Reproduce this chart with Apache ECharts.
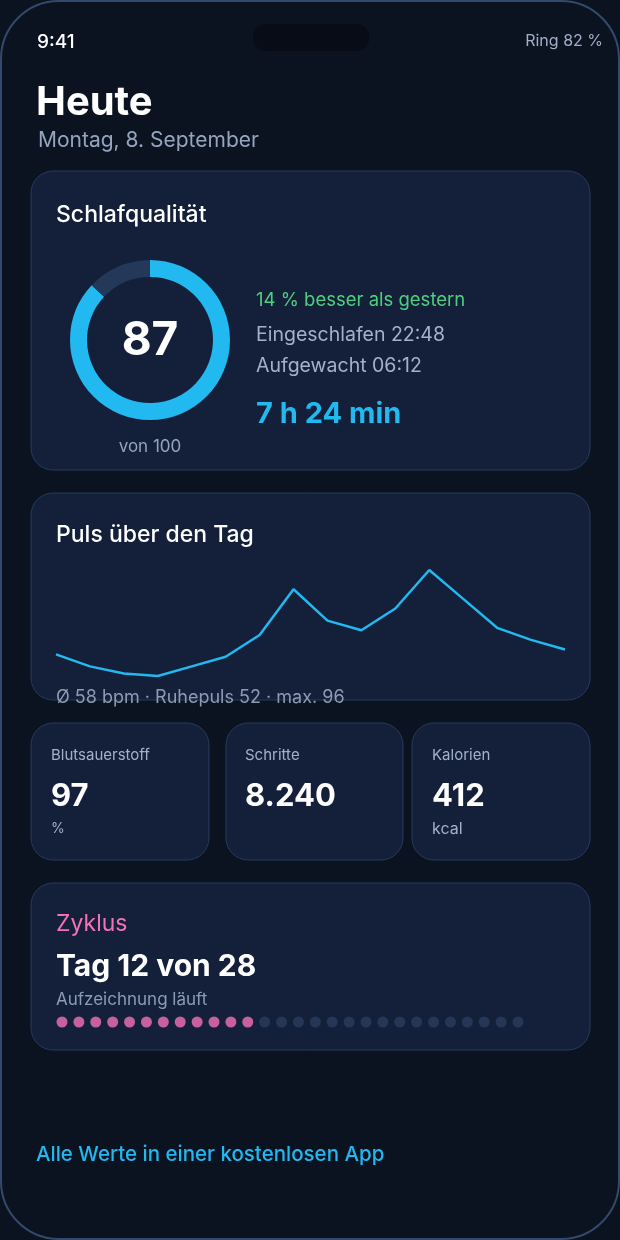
<!DOCTYPE html><html><head><meta charset="utf-8"><script src="https://cdn.jsdelivr.net/npm/echarts@6/dist/echarts.min.js"></script>
<style>html,body{margin:0;padding:0;background:#0b1220}#c{width:620px;height:1240px}</style></head><body><div id="c"></div><script>
const pulseHours=['0','1','2','3','4','5','6','7','8','9','10','11','12','13','14','15'];
const pulseValues=[61,56,53,52,56,60,69,88,75,71,80,96,84,72,67,63];
const sleepScore=[87,13];
const cycleDays=Array.from({length:28},(_,i)=>i+1);
const cycleCurrent=12;
const F='Inter, "Noto Sans", sans-serif';
const ch=echarts.init(document.getElementById('c'));
function card(x,y,w,h){return {type:'rect',shape:{x:x,y:y,width:w,height:h,r:22},style:{fill:'#142039',stroke:'#263b5e',lineWidth:1},z:-5};}
function t(x,y,s,size,color,weight,align){return {type:'text',x:x,y:y,style:{text:s,fontSize:size,fill:color,fontWeight:weight||'normal',fontFamily:F,textAlign:align||'left',textVerticalAlign:'middle'},z:5};}
ch.setOption({
backgroundColor:'#0b1220',animation:false,
graphic:[
{type:'rect',shape:{x:1,y:1,width:618,height:1238,r:58},style:{fill:'#0b1220',stroke:'#34496e',lineWidth:2},z:-10},
{type:'rect',shape:{x:253,y:24,width:116,height:27,r:13},style:{fill:'#070c16'},z:-4},
t(37,42,'9:41',19,'#ffffff','500'),
t(603,41,'Ring 82 %',16,'#9fb0c8','normal','right'),
t(36,103,'Heute',40,'#ffffff','bold'),
t(38,141,'Montag, 8. September',21,'#94a5bf'),
card(31,171,559,299),
t(56,215,'Schlafqualität',23,'#ffffff','500'),
t(150,341,'87',46,'#ffffff','bold','center'),
t(150,447,'von 100',17,'#94a5bf','normal','center'),
t(256,300,'14 % besser als gestern',18.5,'#4fcf7e'),
t(256,335,'Eingeschlafen 22:48',19.5,'#a3b2c8'),
t(256,366,'Aufgewacht 06:12',19.5,'#a3b2c8'),
t(256,414,'7 h 24 min',29,'#22b8f0','bold'),
card(31,493,559,207),
t(56,535,'Puls über den Tag',23,'#ffffff','500'),
t(56,698,'Ø 58 bpm · Ruhepuls 52 · max. 96',18,'#8d9cb4'),
card(31,723,178,137),card(226,723,177,137),card(412,723,178,137),
t(51,755,'Blutsauerstoff',15,'#a3b2c8'),t(51,797,'97',31,'#ffffff','bold'),t(51,829,'%',14,'#a3b2c8'),
t(245,755,'Schritte',15,'#a3b2c8'),t(245,797,'8.240',31,'#ffffff','bold'),
t(432,755,'Kalorien',15,'#a3b2c8'),t(432,797,'412',31,'#ffffff','bold'),t(432,829,'kcal',16,'#a3b2c8'),
card(31,883,559,167),
t(56,924,'Zyklus',23,'#f472b6'),
t(56,967,'Tag 12 von 28',30,'#ffffff','bold'),
t(56,1000,'Aufzeichnung läuft',17,'#8d9cb4'),
t(36,1155,'Alle Werte in einer kostenlosen App',20.5,'#22b8f0','500')
],
grid:[{left:56,right:55,top:570,height:106},{left:62,width:456,top:1017,height:10}],
xAxis:[{type:'category',data:pulseHours,boundaryGap:false,gridIndex:0,show:false},
{type:'value',min:1,max:28,gridIndex:1,show:false}],
yAxis:[{type:'value',min:52,max:96,gridIndex:0,show:false},
{type:'value',min:-1,max:1,gridIndex:1,show:false}],
series:[
{type:'pie',center:[150,340],radius:[63,80],startAngle:90,clockwise:true,silent:true,label:{show:false},labelLine:{show:false},
 data:[{value:sleepScore[0],itemStyle:{color:'#22b8f0'}},{value:sleepScore[1],itemStyle:{color:'#24395a'}}]},
{type:'line',xAxisIndex:0,yAxisIndex:0,data:pulseValues,symbol:'none',lineStyle:{color:'#22b8f0',width:2.5}},
{type:'scatter',xAxisIndex:1,yAxisIndex:1,symbolSize:11,
 data:cycleDays.map(d=>({value:[d,0],itemStyle:{color:d<=cycleCurrent?'#f472b6':'#2a3c5e'}}))}
]});
</script></body></html>
